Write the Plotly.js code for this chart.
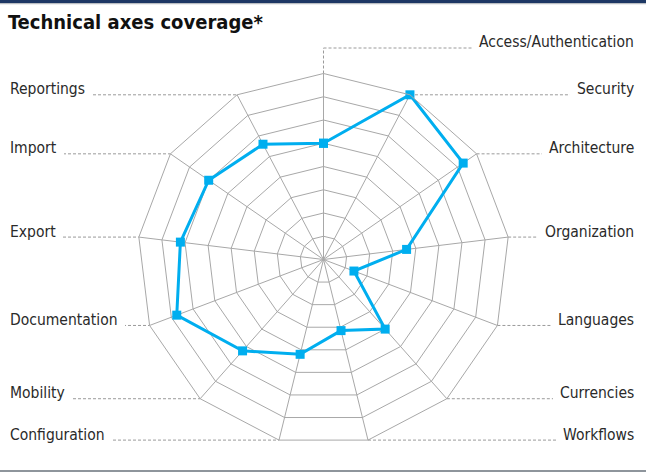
<!DOCTYPE html>
<html><head><meta charset="utf-8">
<script src="https://cdn.plot.ly/plotly-3.0.1.min.js"></script>
<style>html,body{margin:0;padding:0;background:#fff}#chart{width:646px;height:472px}</style>
</head><body><div id="chart"></div>
<script>
const categories = ["Access/Authentication","Security","Architecture","Organization","Languages","Currencies","Workflows","Configuration","Mobility","Documentation","Export","Import","Reportings"];
const coverage = [5, 8, 7.3, 3.6, 1.4, 4, 3.15, 4.2, 5.25, 6.75, 6.2, 6, 5.6];
const radialTicks = [1, 2, 3, 4, 5, 6, 7, 8];
const chartTitle = "Technical axes coverage*";

const W = 646, H = 472, CX = 323.5, CY = 259.5, R = 186;
const RMAX = 8;
const FONT = "'DejaVu Sans Condensed', 'Liberation Sans Narrow', Roboto, sans-serif";
const n = categories.length;
const px = x => x / W, py = y => 1 - y / H;
const GRID = '#a8a8a8', LEAD = '#9a9a9a';

function vertex(i) {
  const a = (90 - i * 360 / n) * Math.PI / 180;
  return [CX + R * Math.cos(a), CY - R * Math.sin(a)];
}

const shapes = [
  {type:'rect', xref:'paper', yref:'paper', x0:0, x1:1, y0:py(3), y1:1, fillcolor:'#1d3764', line:{width:0}},
  {type:'rect', xref:'paper', yref:'paper', x0:0, x1:1, y0:py(4.2), y1:py(3), fillcolor:'#b9bdc2', line:{width:0}},
  {type:'rect', xref:'paper', yref:'paper', x0:0, x1:1, y0:0, y1:py(470), fillcolor:'#8e959c', line:{width:0}}
];
const annotations = [];
const PAD = 7, LEFT_X = 10 - PAD, RIGHT_X = 634 + PAD;
const dash = {color: LEAD, width: 1, dash: '3px,2px'};

categories.forEach((c, i) => {
  const [vx, vy] = vertex(i);
  let ly = vy;
  if (i === 0) {
    ly = 48;
    shapes.push({type:'line', xref:'paper', yref:'paper', x0:px(vx), y0:py(vy), x1:px(vx), y1:py(ly), line:dash, layer:'below'});
    shapes.push({type:'line', xref:'paper', yref:'paper', x0:px(vx), y0:py(ly), x1:px(RIGHT_X), y1:py(ly), line:dash, layer:'below'});
  } else if (i <= 6) {
    shapes.push({type:'line', xref:'paper', yref:'paper', x0:px(vx), y0:py(vy), x1:px(RIGHT_X), y1:py(vy), line:dash, layer:'below'});
  } else {
    shapes.push({type:'line', xref:'paper', yref:'paper', x0:px(LEFT_X), y0:py(vy), x1:px(vx), y1:py(vy), line:dash, layer:'below'});
  }
  const right = i <= 6;
  annotations.push({
    text: c, xref:'paper', yref:'paper', showarrow:false,
    x: px(right ? RIGHT_X : LEFT_X), xanchor: right ? 'right' : 'left',
    y: py(ly), yanchor:'middle', yshift: 5.5,
    bgcolor:'#ffffff', borderpad: PAD, borderwidth: 0,
    font:{family: FONT, size: 15.5, color:'#2a2a2a'}
  });
});

const trace = {
  type:'scatterpolar',
  theta: categories.concat([categories[0]]),
  r: coverage.concat([coverage[0]]),
  mode:'lines+markers',
  line:{color:'#00aeef', width:3},
  marker:{symbol:'square', size:9, color:'#00aeef'},
  cliponaxis:false,
  hoverinfo:'skip'
};

const layout = {
  width: W, height: H,
  margin:{l:0, r:0, t:0, b:0},
  paper_bgcolor:'#ffffff',
  showlegend:false,
  title:{text:'<b>' + chartTitle + '</b>', x: px(8), xanchor:'left', xref:'paper', yref:'paper', y: py(22), yanchor:'middle',
         font:{family: FONT, size: 20, color:'#111111'}},
  polar:{
    domain:{x:[px(CX - R), px(CX + R)], y:[py(CY + R), py(CY - R)]},
    gridshape:'linear',
    bgcolor:'rgba(0,0,0,0)',
    angularaxis:{type:'category', categoryarray: categories, rotation:90, direction:'clockwise',
      showticklabels:false, ticks:'', gridcolor:GRID, gridwidth:1, showline:true, linecolor:GRID, linewidth:1},
    radialaxis:{range:[0, RMAX], tickvals: radialTicks, showticklabels:false, ticks:'', showline:false,
      gridcolor:GRID, gridwidth:1, angle:90}
  },
  shapes: shapes,
  annotations: annotations
};

Plotly.newPlot('chart', [trace], layout, {displayModeBar:false, staticPlot:true});
</script>
</body></html>
